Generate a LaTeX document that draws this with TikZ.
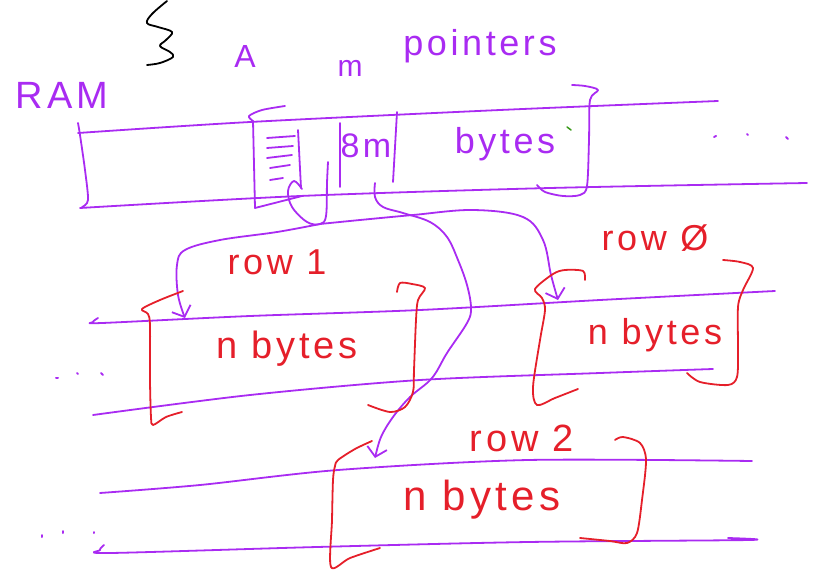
\documentclass[tikz,border=0pt]{standalone}
\usepackage{fontspec}
\setmainfont{Liberation Sans}
\newfontfamily\hand[LetterSpace=10]{Liberation Sans}
\usetikzlibrary{arrows.meta}
\definecolor{ink}{HTML}{A92BF2}
\definecolor{redink}{HTML}{E51F2A}
\definecolor{greenink}{HTML}{3A9A1A}
\tikzset{
  pen/.style={draw=ink, line width=1.8pt, line cap=round, line join=round},
  rpen/.style={draw=redink, line width=1.8pt, line cap=round, line join=round},
  kpen/.style={draw=black, line width=1.8pt, line cap=round, line join=round},
  ptxt/.style={text=ink, inner sep=0pt},
  rtxt/.style={text=redink, inner sep=0pt},
  ptr/.style={pen, -{Straight Barb[length=9pt,width=20pt,line width=1.8pt]}},
  dotmark/.style={pen, line width=2pt},
}
\begin{document}
\begin{tikzpicture}[x=1pt,y=-1pt]
\useasboundingbox (0,0) rectangle (818,572);

% ---- black squiggle
\draw[kpen] plot[smooth, tension=0.6] coordinates {(167,1) (152,14) (147,23) (158,27) (172,32) (166,40) (160,46) (170,52) (173,57) (160,63) (147,65)};

% ---- headings
\node[ptxt, font={\hand\fontsize{38}{38}\selectfont}] (ram) at (62,95) {RAM};
\node[ptxt, font={\hand\fontsize{32}{32}\selectfont}] (aname) at (245,56) {A};
\node[ptxt, font={\hand\fontsize{30}{30}\selectfont}] (mcount) at (350,68) {m};
\node[ptxt, font={\hand\fontsize{36}{36}\selectfont}] (pointers) at (480,46) {pointers};

% ---- top strip (array A)
\draw[pen] plot[smooth, tension=0.5] coordinates {(78,133) (250,122) (500,110) (718,101)};
\draw[pen] plot[smooth, tension=0.5] coordinates {(80,208) (300,196) (550,188) (807,183)};
\draw[pen] plot[smooth, tension=0.5] coordinates {(78,123) (80,135) (85,170) (88,200) (82,207)};
% pointer box
\draw[pen] plot[smooth, tension=0.5] coordinates {(285,106) (262,110) (249,116) (253,121)} -- (255,208) -- (302,196);
\draw[pen] (267,138) -- (295,136);
\draw[pen] (267,148) -- (293,146);
\draw[pen] (267,158) -- (292,155);
\draw[pen] (270,168) -- (290,165);
\draw[pen] (270,180) -- (283,178);
\draw[pen] (298,130) -- (301,188);
\draw[pen] (340,123) -- (340,187);
\draw[pen] (397,112) -- (393,182);
\node[ptxt, font={\hand\fontsize{34}{34}\selectfont}] (eightm) at (366,146) {8m};
\node[ptxt, font={\hand\fontsize{36}{36}\selectfont}] (bytesA) at (505,144) {bytes};
\draw[draw=greenink, line width=1.5pt, line cap=round] (567,127) -- (571,130);
\draw[pen] plot[smooth, tension=0.5] coordinates {(572,85) (585,86) (598,90) (590,100) (589,140) (587,186) (580,195) (563,196) (545,192) (537,185)};
\draw[dotmark] (714,137) -- (716,136);
\draw[dotmark] (747,134) -- (748,135);
\draw[dotmark] (786,137) -- (788,139);

% ---- pointer connectors
\coordinate (p0) at (302,189);
\coordinate (j) at (320,224);
\coordinate (p1) at (375,183);
\coordinate (row1in) at (185,318);
\coordinate (row0in) at (558,300);
\coordinate (row2in) at (375,458);
\draw[pen] plot[smooth, tension=0.6] coordinates {(p0) (294,181) (288,191) (292,207) (307,222) (j) (326,216) (327,183) (328,162)};
\draw[ptr] plot[smooth, tension=0.6] coordinates {(j) (277,232) (220,240) (185,250) (177,265) (178,295) (row1in)};
\draw[ptr] plot[smooth, tension=0.6] coordinates {(j) (360,220) (413,215) (473,210) (523,217) (543,240) (551,275) (row0in)};
\draw[ptr] plot[smooth, tension=0.6] coordinates {(p1) (375,197) (383,207) (403,213) (430,222) (447,237) (458,260) (467,285) (471,308) (467,323) (447,353) (432,378) (410,397) (393,417) (381,437) (row2in)};

% ---- rows 1 and 0 strip
\draw[pen] plot[smooth, tension=0.5] coordinates {(98,318) (93,322) (102,323) (250,316) (420,310) (600,300) (775,291)};
\draw[pen] plot[smooth, tension=0.5] coordinates {(93,415) (250,395) (420,380) (600,373) (713,369)};
\draw[dotmark] (56,378) -- (58,378);
\draw[dotmark] (77,373) -- (78,374);
\draw[dotmark] (101,373) -- (103,375);

% row 1
\draw[rpen] plot[smooth, tension=0.5] coordinates {(183,291) (160,300) (142,309) (148,314) (150,326) (150,380) (151,417) (153,425) (166,417) (182,412)};
\draw[rpen] plot[smooth, tension=0.5] coordinates {(397,292) (400,283) (412,284) (425,288) (418,300) (416,320) (414,370) (413,392) (405,407) (390,412) (368,405)};
\node[rtxt, font={\hand\fontsize{36}{36}\selectfont}] (row1lbl) at (277,262) {row 1};
\node[rtxt, font={\hand\fontsize{38}{38}\selectfont}] (row1bytes) at (287,349) {n bytes};

% row 0
\draw[rpen] plot[smooth, tension=0.5] coordinates {(585,280) (583,271) (565,270) (553,274) (535,289) (542,298) (545,310) (540,340) (533,387) (537,405) (555,398) (578,389)};
\draw[rpen] plot[smooth, tension=0.5] coordinates {(723,260) (740,262) (753,268) (743,290) (738,307) (738,350) (737,377) (728,385) (700,382) (687,373)};
\node[rtxt, font={\hand\fontsize{36}{36}\selectfont}] (row0lbl) at (655,238) {row Ø};
\node[rtxt, font={\hand\fontsize{36}{36}\selectfont}] (row0bytes) at (655,335) {n bytes};

% ---- row 2 strip
\draw[pen] plot[smooth, tension=0.5] coordinates {(100,493) (200,485) (338,470) (528,460) (752,461)};
\draw[pen] plot[smooth, tension=0.5] coordinates {(104,545) (100,550) (110,553) (317,547) (528,542) (749,540) (728,538)};
\draw[dotmark] (42,535) -- (42,537);
\draw[dotmark] (63,531) -- (63,533);
\draw[dotmark] (94,532) -- (94,533);
\draw[rpen] plot[smooth, tension=0.5] coordinates {(372,441) (355,449) (338,460) (335,466) (333,480) (332,520) (331,567) (350,558) (380,548)};
\draw[rpen] plot[smooth, tension=0.5] coordinates {(615,440) (623,437) (640,443) (646,460) (642,500) (637,533) (627,543) (610,541) (580,538)};
\node[rtxt, font={\hand\fontsize{38}{38}\selectfont}] (row2lbl) at (522,438) {row 2};
\node[rtxt, font={\hand\fontsize{42}{42}\selectfont}] (row2bytes) at (482,500) {n bytes};

\end{tikzpicture}
\end{document}
